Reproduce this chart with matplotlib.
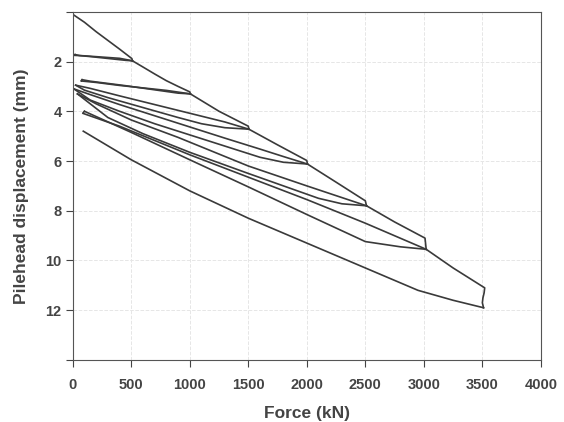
import matplotlib.pyplot as plt

# force (kN) and pilehead displacement (mm)
# one list per branch: loading (virgin), unloading, reloading
load_1_F = [0, 100, 200, 300, 400, 505, 510]
load_1_d = [0.1, 0.42, 0.8, 1.15, 1.5, 1.88, 1.97]
unload_1_F = [510, 450, 350, 250, 150, 60, 20]
unload_1_d = [1.97, 1.95, 1.9, 1.85, 1.8, 1.76, 1.72]
reload_1_F = [20, 10, 100, 250, 400, 510]
reload_1_d = [1.72, 1.75, 1.77, 1.82, 1.87, 1.97]

load_2_F = [510, 600, 700, 800, 900, 1000, 1005]
load_2_d = [1.97, 2.22, 2.5, 2.77, 3.0, 3.22, 3.3]
unload_2_F = [1005, 900, 750, 600, 450, 300, 150, 80]
unload_2_d = [3.3, 3.27, 3.17, 3.07, 2.97, 2.88, 2.79, 2.73]
reload_2_F = [80, 70, 200, 400, 600, 800, 1005]
reload_2_d = [2.73, 2.78, 2.84, 2.96, 3.06, 3.16, 3.3]

load_3_F = [1005, 1250, 1500, 1505]
load_3_d = [3.3, 4.0, 4.6, 4.72]
unload_3_F = [1505, 1300, 1100, 900, 600, 300, 100, 25]
unload_3_d = [4.72, 4.66, 4.5, 4.25, 3.85, 3.45, 3.15, 2.95]
reload_3_F = [25, 150, 400, 700, 1000, 1300, 1505]
reload_3_d = [2.95, 3.08, 3.38, 3.73, 4.08, 4.43, 4.72]

load_4_F = [1505, 1750, 2000, 2005]
load_4_d = [4.72, 5.35, 5.98, 6.12]
unload_4_F = [2005, 1800, 1600, 1300, 1000, 700, 400, 150, 10]
unload_4_d = [6.12, 6.05, 5.85, 5.4, 4.95, 4.5, 4.0, 3.55, 3.1]
reload_4_F = [10, 150, 400, 700, 1000, 1300, 1600, 1800, 2005]
reload_4_d = [3.1, 3.33, 3.73, 4.18, 4.63, 5.08, 5.52, 5.82, 6.12]

load_5_F = [2005, 2250, 2500, 2510]
load_5_d = [6.12, 6.85, 7.6, 7.8]
unload_5_F = [2510, 2300, 2100, 1800, 1500, 1000, 600, 300, 40]
unload_5_d = [7.8, 7.72, 7.5, 7.0, 6.5, 5.65, 4.9, 4.25, 3.3]
reload_5_F = [40, 200, 500, 900, 1500, 2000, 2510]
reload_5_d = [3.3, 3.7, 4.35, 5.05, 6.2, 7.0, 7.8]

load_6_F = [2510, 2750, 3010, 3020]
load_6_d = [7.8, 8.45, 9.1, 9.55]
unload_6_F = [3020, 2800, 2500, 2000, 1500, 1000, 500, 100]
unload_6_d = [9.55, 9.45, 9.24, 8.15, 7.04, 5.95, 4.85, 4.0]
reload_6_F = [100, 85, 400, 1000, 1500, 2000, 2500, 3020]
reload_6_d = [4.0, 4.08, 4.6, 5.75, 6.65, 7.55, 8.5, 9.55]

load_7_F = [3020, 3250, 3520, 3515, 3505, 3500, 3510]
load_7_d = [9.55, 10.3, 11.1, 11.3, 11.5, 11.7, 11.9]
unload_7_F = [3510, 3250, 2950, 2500, 2000, 1500, 1000, 500, 90]
unload_7_d = [11.9, 11.6, 11.2, 10.3, 9.3, 8.3, 7.2, 5.95, 4.8]

x_ticks = [0, 500, 1000, 1500, 2000, 2500, 3000, 3500, 4000]
y_ticks = [0, 2, 4, 6, 8, 10, 12, 14]
y_labels = ["", "2", "4", "6", "8", "10", "12", ""]

plt.rcParams["font.family"] = ["Liberation Sans", "DejaVu Sans"]

fig = plt.figure(figsize=(5.64, 4.22), dpi=100)
ax = fig.add_axes([0.129, 0.147, 0.83, 0.825])

branches = [
    (load_1_F, load_1_d), (unload_1_F, unload_1_d), (reload_1_F, reload_1_d),
    (load_2_F, load_2_d), (unload_2_F, unload_2_d), (reload_2_F, reload_2_d),
    (load_3_F, load_3_d), (unload_3_F, unload_3_d), (reload_3_F, reload_3_d),
    (load_4_F, load_4_d), (unload_4_F, unload_4_d), (reload_4_F, reload_4_d),
    (load_5_F, load_5_d), (unload_5_F, unload_5_d), (reload_5_F, reload_5_d),
    (load_6_F, load_6_d), (unload_6_F, unload_6_d), (reload_6_F, reload_6_d),
    (load_7_F, load_7_d), (unload_7_F, unload_7_d),
]
for F, d in branches:
    ax.plot(F, d, color="#3a3a3a", lw=1.2)

ax.set_xlim(0, 4000)
ax.set_ylim(14, 0)
ax.set_xticks(x_ticks)
ax.set_yticks(y_ticks)
ax.set_yticklabels(y_labels)
ax.tick_params(direction="out", length=5, labelsize=10.5, colors="#444444",
               labelcolor="#444444")
ax.tick_params(axis="x", pad=8)
ax.tick_params(axis="y", pad=3)
for lab in ax.get_xticklabels() + ax.get_yticklabels():
    lab.set_fontweight("bold")
ax.grid(True, color="#e6e6e6", ls="--", lw=0.7)
for s in ax.spines.values():
    s.set_color("#555555")

ax.set_xlabel("Force (kN)", fontsize=12.5, fontweight="bold", color="#444444", labelpad=10)
ax.set_ylabel("Pilehead displacement (mm)", fontsize=12.5, fontweight="bold", color="#444444", labelpad=12)

fig.savefig("out.png", dpi=100)
